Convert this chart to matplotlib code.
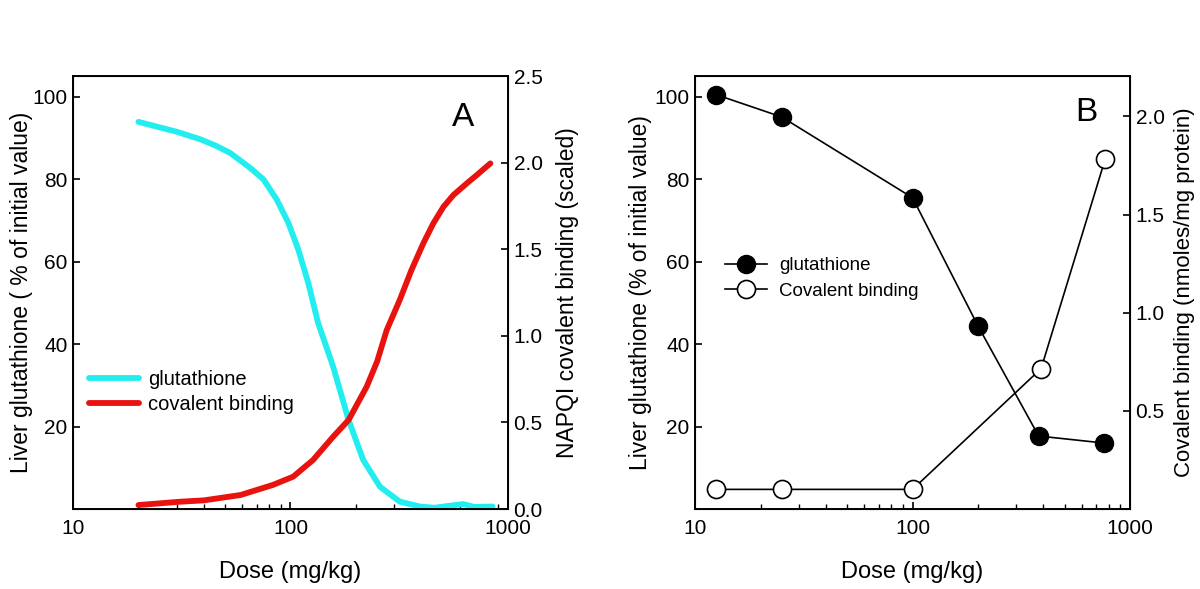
import numpy as np
import matplotlib
matplotlib.use("Agg")
import matplotlib.pyplot as plt
from matplotlib.ticker import FixedLocator, FormatStrFormatter, LogLocator, NullFormatter

plt.rcParams['font.family'] = ['Liberation Sans', 'DejaVu Sans']

# Panel A: model curves
dose_gsh_a = [20, 30, 38.4, 45, 52.7, 65, 75, 86.4, 97.8, 108.7, 120.8, 134, 157, 185, 216, 258, 318,
              393, 460, 522, 623, 700, 850]
gsh_a = [93.9, 91.5, 89.7, 88.2, 86.4, 82.8, 80.0, 75.1, 69.4, 62.9, 54.8, 45.1, 34.6, 21.6, 11.9, 5.4, 1.8,
         0.6, 0.3, 0.7, 1.2, 0.5, 0.6]

dose_cov_a = [20, 31, 40, 59, 83, 103, 127, 157, 185, 224, 250, 277, 318, 360, 408, 454, 505, 561, 646, 718, 830]
cov_a = [0.023, 0.042, 0.05, 0.081, 0.139, 0.187, 0.283, 0.417, 0.514, 0.706, 0.85, 1.033, 1.207, 1.38,
         1.534, 1.65, 1.745, 1.813, 1.88, 1.928, 1.996]

# Panel B: measured points
dose_gsh_b = [12.5, 25, 100, 200, 380, 760]
gsh_b = [100.5, 95.1, 75.5, 44.4, 17.7, 16.0]

dose_cov_b = [12.5, 25, 100, 390, 770]
cov_b = [0.10, 0.10, 0.10, 0.715, 1.785]

left_ticks = [20, 40, 60, 80, 100]
right_ticks_a = [0.0, 0.5, 1.0, 1.5, 2.0, 2.5]
right_ticks_b = [0.5, 1.0, 1.5, 2.0]

FS_TICK = 15
FS_LABEL = 16.5


def style_axes(ax):
    ax.set_xscale('log')
    ax.set_xlim(10, 1000)
    ax.set_ylim(0, 105)
    ax.xaxis.set_major_locator(FixedLocator([10, 100, 1000]))
    ax.xaxis.set_major_formatter(FormatStrFormatter('%d'))
    ax.xaxis.set_minor_locator(LogLocator(base=10, subs=np.arange(2, 10)))
    ax.xaxis.set_minor_formatter(NullFormatter())
    ax.set_yticks(left_ticks)
    ax.tick_params(which='major', direction='in', length=5, width=1.2, labelsize=FS_TICK, top=False, pad=4)
    ax.tick_params(which='minor', direction='in', length=3.5, width=1, top=False)
    ax.tick_params(axis='x', which='major', pad=7)
    for s in ax.spines.values():
        s.set_linewidth(1.4)
    ax.set_xlabel('Dose (mg/kg)', fontsize=17)
    ax.xaxis.set_label_coords(0.5, -0.12)


fig = plt.figure(figsize=(12, 5.89), dpi=100)

# ---- panel A ----
axA = fig.add_axes([0.0608, 0.1358, 0.3625, 0.735])
style_axes(axA)
axA.set_ylabel('Liver glutathione ( % of initial value)', fontsize=FS_LABEL)
axA.yaxis.set_label_coords(-0.093, 0.5)
lg, = axA.plot(dose_gsh_a, gsh_a, color='#22EEF0', lw=4.2, solid_capstyle='round', solid_joinstyle='round',
               label='glutathione')
axA2 = axA.twinx()
axA2.set_ylim(0, 2.5)
axA2.set_yticks(right_ticks_a)
axA2.yaxis.set_major_formatter(FormatStrFormatter('%.1f'))
axA2.tick_params(direction='in', length=5, width=1.2, labelsize=FS_TICK, pad=4)
lc, = axA2.plot(dose_cov_a, cov_a, color='#E8130F', lw=4.2, solid_capstyle='round', solid_joinstyle='round',
                label='covalent binding')
axA2.set_ylabel('NAPQI covalent binding (scaled)', fontsize=FS_LABEL)
axA2.yaxis.set_label_coords(1.11, 0.5)
axA.text(0.896, 0.905, 'A', transform=axA.transAxes, fontsize=24, ha='center', va='center')
axA.legend(handles=[lg, lc], loc='center left', bbox_to_anchor=(0.037, 0.27), frameon=False,
           fontsize=14.5, handlelength=2.5, handletextpad=0.45, labelspacing=0.28,
           borderpad=0, borderaxespad=0)

# ---- panel B ----
axB = fig.add_axes([0.5792, 0.1358, 0.3625, 0.735])
style_axes(axB)
axB.set_ylabel('Liver glutathione (% of initial value)', fontsize=FS_LABEL)
axB.yaxis.set_label_coords(-0.1, 0.5)
axB2 = axB.twinx()
axB2.set_ylim(0, 2.205)
axB2.set_yticks(right_ticks_b)
axB2.yaxis.set_major_formatter(FormatStrFormatter('%.1f'))
axB2.tick_params(direction='in', length=5, width=1.2, labelsize=FS_TICK, pad=4)
axB2.set_ylabel('Covalent binding (nmoles/mg protein)', fontsize=16)
axB2.yaxis.set_label_coords(1.1, 0.5)

hc, = axB2.plot(dose_cov_b, cov_b, color='black', lw=1.2, marker='o', ms=13,
                mfc='white', mec='black', mew=1.2, label='Covalent binding')
hg, = axB.plot(dose_gsh_b, gsh_b, color='black', lw=1.2, marker='o', ms=13,
               mfc='black', mec='black', label='glutathione')
axB.set_zorder(axB2.get_zorder() + 1)
axB.patch.set_visible(False)
axB.text(0.9, 0.915, 'B', transform=axB.transAxes, fontsize=24, ha='center', va='center')
axB.legend(handles=[hg, hc], loc='center left', bbox_to_anchor=(0.068, 0.532), frameon=False,
           fontsize=13.5, handlelength=2.25, handletextpad=0.64, labelspacing=0.45,
           borderpad=0, borderaxespad=0, numpoints=1)

fig.savefig('out.png', dpi=100)
